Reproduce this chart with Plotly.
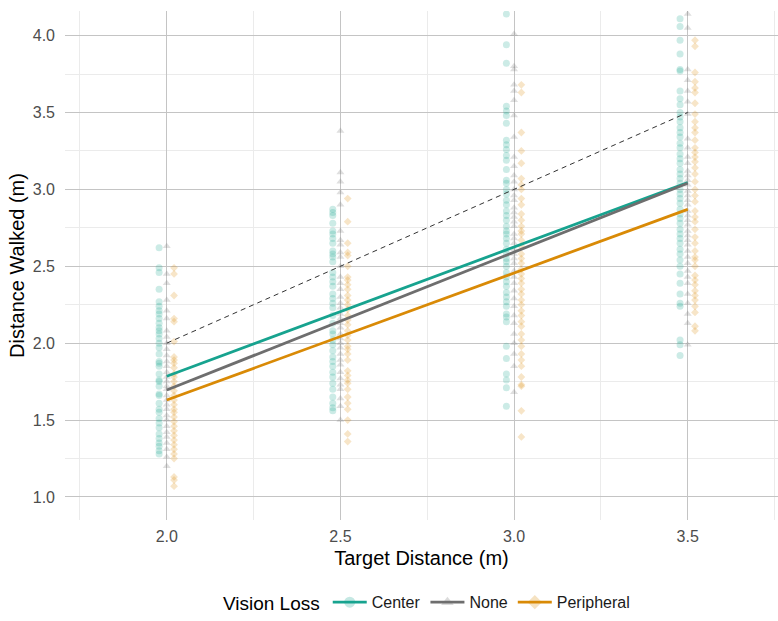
import plotly.graph_objects as go

# Target distances (m)
targets = [2.0, 2.5, 3.0, 3.5]

# Walked distances (m) per vision-loss group, one list per target distance
center_walked = {
    2.0: [2.62, 2.49, 2.46, 2.35, 2.27, 2.24, 2.21, 2.19, 2.16, 2.13, 2.10, 2.08, 2.06, 2.03,
          2.00, 1.97, 1.93, 1.88, 1.87, 1.85, 1.80, 1.76, 1.75, 1.72, 1.67, 1.66, 1.61, 1.57,
          1.55, 1.51, 1.48, 1.45, 1.41, 1.38, 1.35, 1.33, 1.30, 1.28],
    2.5: [2.87, 2.85, 2.83, 2.78, 2.73, 2.71, 2.68, 2.65, 2.60, 2.58, 2.56, 2.53, 2.46, 2.43,
          2.40, 2.37, 2.32, 2.29, 2.26, 2.23, 2.18, 2.13, 2.08, 2.06, 2.02, 1.99, 1.95, 1.91,
          1.88, 1.85, 1.81, 1.78, 1.74, 1.70, 1.65, 1.61, 1.58, 1.56],
    3.0: [4.14, 3.94, 3.82, 3.54, 3.51, 3.48, 3.43, 3.32, 3.29, 3.26, 3.22, 3.19, 3.13, 3.06,
          3.04, 3.00, 2.97, 2.93, 2.90, 2.86, 2.83, 2.80, 2.76, 2.73, 2.71, 2.68, 2.65, 2.61,
          2.58, 2.55, 2.53, 2.50, 2.46, 2.43, 2.40, 2.37, 2.33, 2.30, 2.27, 2.24, 2.19, 2.17,
          2.14, 1.98, 1.90, 1.80, 1.76, 1.71, 1.59],
    3.5: [4.11, 4.06, 3.97, 3.88, 3.78, 3.77, 3.64, 3.59, 3.55, 3.50, 3.47, 3.44, 3.40, 3.37,
          3.34, 3.30, 3.27, 3.23, 3.20, 3.17, 3.13, 3.10, 3.07, 3.04, 3.00, 2.97, 2.94, 2.91,
          2.87, 2.84, 2.81, 2.78, 2.74, 2.71, 2.68, 2.65, 2.61, 2.58, 2.54, 2.50, 2.45, 2.39,
          2.32, 2.26, 2.24, 2.02, 1.99, 1.92],
}

none_walked = {
    2.0: [2.63, 2.45, 2.39, 2.28, 2.21, 2.16, 2.08, 2.04, 2.00, 1.96, 1.92, 1.88, 1.85, 1.81,
          1.78, 1.75, 1.72, 1.70, 1.66, 1.63, 1.60, 1.57, 1.53, 1.50, 1.46, 1.42, 1.39, 1.35,
          1.31, 1.26, 1.20],
    2.5: [3.38, 3.11, 3.05, 2.98, 2.90, 2.73, 2.67, 2.64, 2.59, 2.56, 2.50, 2.43, 2.39, 2.35,
          2.30, 2.26, 2.23, 2.19, 2.16, 2.13, 2.10, 2.06, 2.03, 2.00, 1.97, 1.93, 1.89, 1.86,
          1.81, 1.77, 1.73, 1.70, 1.64, 1.59, 1.50],
    3.0: [4.01, 3.80, 3.78, 3.68, 3.64, 3.58, 3.48, 3.34, 3.21, 3.15, 3.09, 3.05, 3.00, 2.96,
          2.93, 2.88, 2.85, 2.82, 2.79, 2.76, 2.71, 2.68, 2.65, 2.61, 2.58, 2.55, 2.52, 2.47,
          2.43, 2.39, 2.34, 2.29, 2.24, 2.18, 2.13, 2.06, 2.00, 1.93, 1.85, 1.68],
    3.5: [4.14, 4.05, 3.78, 3.71, 3.64, 3.57, 3.49, 3.33, 3.27, 3.21, 3.17, 3.12, 3.09, 3.06,
          3.03, 2.99, 2.96, 2.93, 2.90, 2.86, 2.83, 2.80, 2.77, 2.73, 2.70, 2.67, 2.64, 2.60,
          2.56, 2.52, 2.47, 2.43, 2.39, 2.32, 2.26, 2.19, 2.13, 1.99],
}

peripheral_walked = {
    2.0: [2.49, 2.45, 2.31, 2.16, 2.14, 2.01, 1.91, 1.89, 1.87, 1.84, 1.80, 1.78, 1.75, 1.72,
          1.69, 1.66, 1.63, 1.60, 1.57, 1.55, 1.52, 1.49, 1.46, 1.43, 1.40, 1.37, 1.34, 1.31,
          1.28, 1.25, 1.13, 1.11, 1.07],
    2.5: [2.94, 2.79, 2.65, 2.59, 2.57, 2.50, 2.43, 2.41, 2.38, 2.35, 2.31, 2.28, 2.25, 2.22,
          2.18, 2.15, 2.12, 2.08, 2.05, 2.02, 1.98, 1.96, 1.93, 1.89, 1.82, 1.79, 1.76, 1.74,
          1.70, 1.65, 1.61, 1.57, 1.50, 1.41, 1.36],
    3.0: [3.68, 3.63, 3.37, 3.25, 3.17, 3.07, 3.03, 3.00, 2.94, 2.90, 2.84, 2.80, 2.76, 2.73,
          2.71, 2.67, 2.63, 2.58, 2.55, 2.52, 2.48, 2.45, 2.42, 2.39, 2.35, 2.32, 2.28, 2.25,
          2.21, 2.18, 2.14, 2.11, 2.06, 2.02, 1.98, 1.93, 1.89, 1.85, 1.78, 1.73, 1.72, 1.56,
          1.39],
    3.5: [3.97, 3.93, 3.76, 3.70, 3.66, 3.63, 3.56, 3.49, 3.44, 3.40, 3.37, 3.32, 3.27, 3.24,
          3.21, 3.18, 3.14, 3.10, 3.05, 3.00, 2.96, 2.92, 2.86, 2.82, 2.79, 2.74, 2.69, 2.65,
          2.60, 2.56, 2.54, 2.50, 2.44, 2.41, 2.38, 2.34, 2.31, 2.28, 2.24, 2.20, 2.11, 2.08],
}

# Fitted linear trends, evaluated at the ends of the target range
fit_x = [2.0, 3.5]
center_fit = [1.785, 3.045]
none_fit = [1.695, 3.040]
peripheral_fit = [1.630, 2.870]

groups = [
    ("Center", center_walked, center_fit, "#17A38F", "circle", 7, -0.022),
    ("None", none_walked, none_fit, "#6E6E6E", "triangle-up", 7, 0.0),
    ("Peripheral", peripheral_walked, peripheral_fit, "#D98A06", "diamond", 6, 0.021),
]

fig = go.Figure()

# Raw observations, dodged slightly by group
for name, walked, fit, color, symbol, msize, dodge in groups:
    xs, ys = [], []
    for t in targets:
        xs += [t + dodge] * len(walked[t])
        ys += walked[t]
    fig.add_trace(go.Scatter(
        x=xs, y=ys, mode="markers", showlegend=False, hoverinfo="skip",
        marker=dict(symbol=symbol, size=msize, color=color, opacity=0.22, line=dict(width=0)),
    ))

# Perfect-accuracy reference (walked = target)
fig.add_trace(go.Scatter(
    x=[targets[0], targets[-1]], y=[targets[0], targets[-1]], mode="lines",
    line=dict(color="#333333", width=1, dash="5px,4px"), showlegend=False, hoverinfo="skip",
))

# Group trend lines
for name, walked, fit, color, symbol, msize, dodge in groups:
    fig.add_trace(go.Scatter(
        x=fit_x, y=fit, mode="lines", showlegend=False,
        line=dict(color=color, width=2.8),
    ))

# Legend keys: line with a faint marker on top
for name, walked, fit, color, symbol, msize, dodge in groups:
    fig.add_trace(go.Scatter(
        x=[None], y=[None], mode="lines+markers", name=name,
        line=dict(color=color, width=2.8),
        marker=dict(symbol=symbol, size=11, color=color, opacity=0.25),
    ))

font_family = "Liberation Sans, Arial, sans-serif"

fig.update_layout(
    width=778, height=621,
    margin=dict(l=65, r=0, t=11, b=101),
    paper_bgcolor="white", plot_bgcolor="white",
    font=dict(family=font_family, color="#000000"),
    legend=dict(
        orientation="h", x=0.509, xanchor="center", y=-0.197, yanchor="bottom",
        title=dict(text="Vision Loss", font=dict(size=19, color="#000000"), side="left"),
        font=dict(size=16, color="#1A1A1A"),
        itemwidth=34, traceorder="normal",
    ),
)

fig.update_xaxes(
    range=[1.707, 3.76],
    tickvals=targets, ticktext=["2.0", "2.5", "3.0", "3.5"],
    showgrid=True, gridcolor="#C4C4C4", gridwidth=1,
    minor=dict(tickvals=[1.75, 2.25, 2.75, 3.25, 3.75], showgrid=True,
               gridcolor="#EBEBEB", gridwidth=1),
    ticks="", ticklabelstandoff=5,
    tickfont=dict(size=16, color="#4D4D4D"),
    title=dict(text="Target Distance (m)", font=dict(size=20, color="#000000"), standoff=6),
    zeroline=False, showline=False, automargin=False,
)

fig.update_yaxes(
    range=[0.85, 4.16],
    tickvals=[1.0, 1.5, 2.0, 2.5, 3.0, 3.5, 4.0],
    ticktext=["1.0", "1.5", "2.0", "2.5", "3.0", "3.5", "4.0"],
    showgrid=True, gridcolor="#C4C4C4", gridwidth=1,
    minor=dict(tickvals=[1.25, 1.75, 2.25, 2.75, 3.25, 3.75], showgrid=True,
               gridcolor="#EBEBEB", gridwidth=1),
    ticks="", ticklabelstandoff=9,
    tickfont=dict(size=16, color="#4D4D4D"),
    title=dict(text="Distance Walked (m)", font=dict(size=20, color="#000000"), standoff=2),
    zeroline=False, showline=False, automargin=False,
)

fig.write_html("out.html")
